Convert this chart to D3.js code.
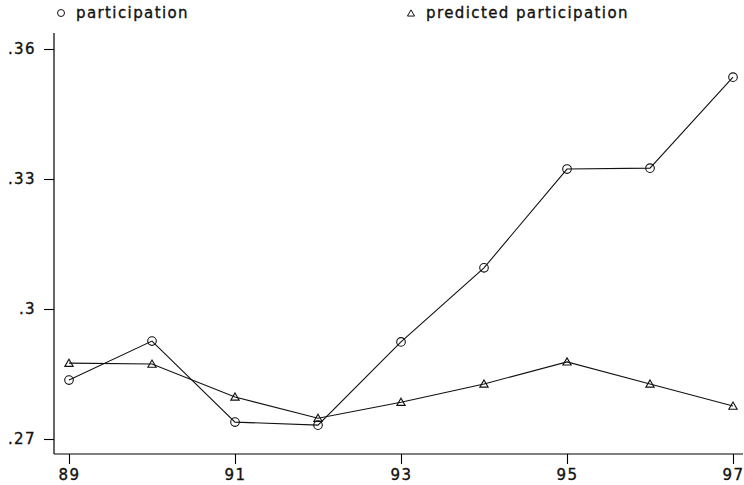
<!DOCTYPE html>
<html>
<head>
<meta charset="utf-8">
<script src="https://cdn.jsdelivr.net/npm/d3@7"></script>
<style>
  body { margin: 0; background: #fff; }
  svg text { font-family: "DejaVu Sans", "Liberation Sans", Arial, sans-serif; fill: #111; stroke: #111; stroke-width: 0.35px; }
</style>
</head>
<body>
<svg id="chart"></svg>
<script>
// data
const years = [89, 90, 91, 92, 93, 94, 95, 96, 97]
const participation = [0.2836, 0.2926, 0.2739, 0.2732, 0.2924, 0.3095, 0.3323, 0.3325, 0.3535]
const predicted = [0.2875, 0.2873, 0.2797, 0.2748, 0.2785, 0.2827, 0.2878, 0.2827, 0.2776]
const yTicks = [0.27, 0.30, 0.33, 0.36]
const xTicks = [89, 91, 93, 95, 97]
const seriesNames = ["participation", "predicted participation"]

const config = {
    width: 744,
    height: 485,
    axisX: 54,      // y axis position
    axisY: 454,     // x axis position
    fontSize: 15,
    spacing: "1.4px"
}

const svg = d3.select("svg#chart")
    .attr("width", config.width)
    .attr("height", config.height)

const x = d3.scaleLinear().domain([89, 97]).range([69, 733])
const y = d3.scaleLinear().domain([0.27, 0.36]).range([439, 49])

// axis lines
svg.append("line")
    .attr("x1", config.axisX).attr("x2", config.axisX)
    .attr("y1", 33).attr("y2", config.axisY)
    .style("stroke", "#000").style("stroke-width", 1.2)
svg.append("line")
    .attr("x1", config.axisX).attr("x2", 743)
    .attr("y1", config.axisY).attr("y2", config.axisY)
    .style("stroke", "#000").style("stroke-width", 1.2)

const fmt = d => d3.format(".2~f")(d).replace(/^0/, "")

const yAxis = svg.append("g")
    .attr("transform", `translate(${config.axisX},0)`)
    .call(d3.axisLeft(y).tickValues(yTicks).tickFormat(fmt).tickSize(10).tickPadding(8))
yAxis.select(".domain").remove()

const xAxis = svg.append("g")
    .attr("transform", `translate(0,${config.axisY})`)
    .call(d3.axisBottom(x).tickValues(xTicks).tickFormat(d => d).tickSize(10).tickPadding(5))
xAxis.select(".domain").remove()

svg.selectAll(".tick line").style("stroke", "#000").style("stroke-width", 1.1)
svg.selectAll(".tick text")
    .style("font-size", config.fontSize + "px")
    .style("letter-spacing", config.spacing)
    .style("fill", "#111")
    .attr("font-family", null)

// lines
const line = d3.line()
    .x((d, i) => x(years[i]))
    .y(d => y(d))

svg.append("path").datum(participation)
    .attr("d", line)
    .style("fill", "none").style("stroke", "#111").style("stroke-width", 1.1)
svg.append("path").datum(predicted)
    .attr("d", line)
    .style("fill", "none").style("stroke", "#111").style("stroke-width", 1.1)

// markers
const tri = d3.symbol().type(d3.symbolTriangle).size(30)

svg.append("g").selectAll("circle")
    .data(participation)
    .join("circle")
    .attr("cx", (d, i) => x(years[i]))
    .attr("cy", d => y(d))
    .attr("r", 4.3)
    .style("fill", "none").style("stroke", "#111").style("stroke-width", 1.1)

svg.append("g").selectAll("path")
    .data(predicted)
    .join("path")
    .attr("d", tri)
    .attr("transform", (d, i) => `translate(${x(years[i])},${y(d) + 0.8})`)
    .style("fill", "none").style("stroke", "#111").style("stroke-width", 1.1)

// legend
const legend = svg.append("g")
legend.append("circle")
    .attr("cx", 61).attr("cy", 13).attr("r", 3.5)
    .style("fill", "none").style("stroke", "#111").style("stroke-width", 1)
legend.append("text")
    .attr("x", 76).attr("y", 18)
    .style("font-size", config.fontSize + "px")
    .style("letter-spacing", config.spacing)
    .text(seriesNames[0])
legend.append("path")
    .attr("d", d3.symbol().type(d3.symbolTriangle).size(22))
    .attr("transform", "translate(411,14)")
    .style("fill", "none").style("stroke", "#111").style("stroke-width", 1)
legend.append("text")
    .attr("x", 426).attr("y", 18)
    .style("font-size", config.fontSize + "px")
    .style("letter-spacing", config.spacing)
    .text(seriesNames[1])
</script>
</body>
</html>
